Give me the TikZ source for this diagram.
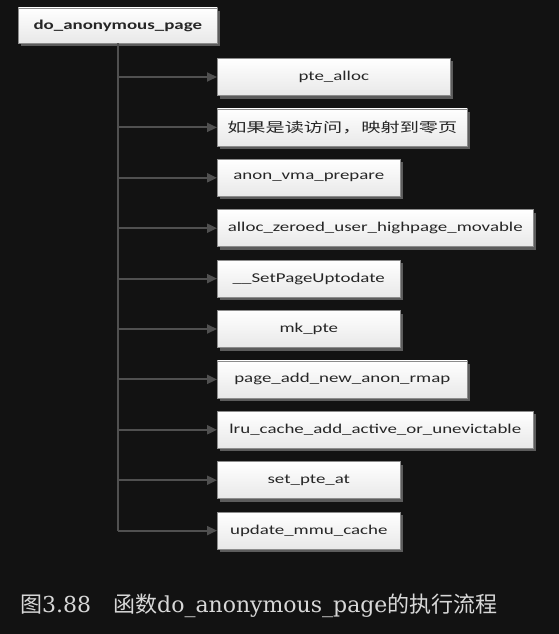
\documentclass[tikz,border=0pt]{standalone}
\usepackage{fontspec}
\setmainfont{DejaVu Serif}
\newfontfamily\boxfont[FakeStretch=1.4]{Carlito}
\newfontfamily\boxcjk[FakeStretch=1.42]{Noto Sans CJK SC}
\newfontfamily\cjk{Noto Sans CJK SC}
\usetikzlibrary{positioning, arrows.meta, shadows}

\definecolor{bgcol}{HTML}{121212}
\definecolor{linecol}{HTML}{505050}
\definecolor{shadowcol}{HTML}{5C5C5C}
\definecolor{edgecol}{HTML}{8C8C8C}
\definecolor{capcol}{HTML}{D8D8D8}

\tikzset{
  fn/.style={draw=edgecol, line width=0.6pt, top color=white, bottom color=black!9,
    text=black!85, font=\boxfont\fontsize{13.5}{16}\selectfont,
    minimum height=37pt, inner sep=0pt, anchor=west,
    drop shadow={shadow xshift=3pt, shadow yshift=-3pt, fill=shadowcol, opacity=1}},
  trunk/.style={draw=linecol, line width=2.2pt},
  call/.style={draw=linecol, line width=2pt, -{Triangle[length=10pt,width=9pt]}},
}

\begin{document}
\begin{tikzpicture}[x=1pt, y=-1pt]
\fill[bgcol] (0,0) rectangle (559,634);
\useasboundingbox (0,0) rectangle (559,634);

% caller
\node[fn, minimum width=199pt, minimum height=35pt,
  font=\boxfont\bfseries\fontsize{13.5}{16}\selectfont] (dap) at (18,25.5) {do\_anonymous\_page};

% callees, top to bottom
\node[fn, minimum width=233pt] (ptealloc) at (217,77) {pte\_alloc};
\node[fn, minimum width=250pt, font=\boxcjk\fontsize{13.5}{16}\selectfont] (zeropage) at (217,127.4) {如果是读访问，映射到零页};
\node[fn, minimum width=183pt] (anonvma) at (217,177.8) {anon\_vma\_prepare};
\node[fn, minimum width=316pt] (allocpage) at (217,228.2) {alloc\_zeroed\_user\_highpage\_movable};
\node[fn, minimum width=183pt] (uptodate) at (217,278.6) {\_\_SetPageUptodate};
\node[fn, minimum width=183pt] (mkpte) at (217,329) {mk\_pte};
\node[fn, minimum width=250pt] (rmap) at (217,379.4) {page\_add\_new\_anon\_rmap};
\node[fn, minimum width=316pt] (lru) at (217,429.8) {lru\_cache\_add\_active\_or\_unevictable};
\node[fn, minimum width=183pt] (setpte) at (217,480.2) {set\_pte\_at};
\node[fn, minimum width=183pt] (mmucache) at (217,530.6) {update\_mmu\_cache};

% connectors
\draw[trunk] (dap.south) -- (dap.south |- mmucache.west);
\foreach \callee in {ptealloc, zeropage, anonvma, allocpage, uptodate, mkpte, rmap, lru, setpte, mmucache}
  \draw[call] (dap.south |- \callee.west) -- (\callee.west);

% caption
\node[text=capcol, font=\fontsize{22}{26}\selectfont, anchor=base west, inner sep=0pt] (caption) at (20,612)
  {{\cjk 图}3.88{\cjk 　函数}do\_anonymous\_page{\cjk 的执行流程}};
\end{tikzpicture}
\end{document}
